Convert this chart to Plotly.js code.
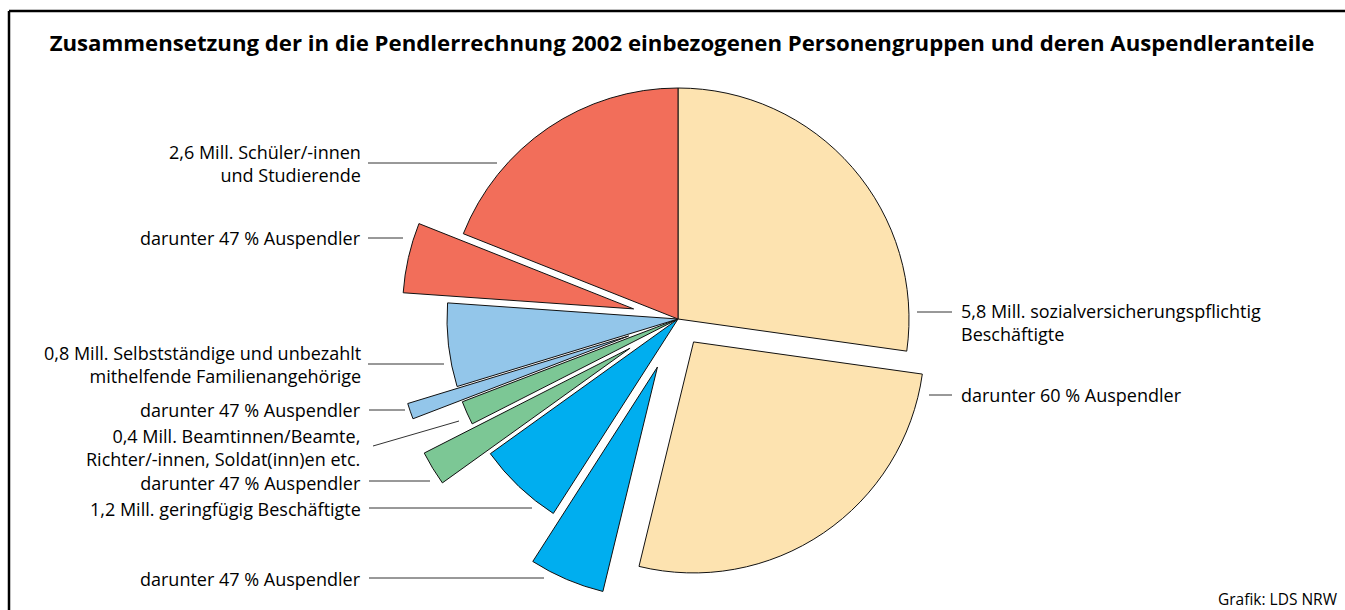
<!DOCTYPE html>
<html>
<head>
<meta charset="utf-8">
<script src="https://cdn.plot.ly/plotly-3.0.1.min.js"></script>
<style>
html,body{margin:0;padding:0;background:#fff;overflow:hidden;}
#chart{width:1345px;height:610px;}
</style>
</head>
<body>
<div id="chart"></div>
<script>
const categories = [
  "Sozialversicherungspflichtig Beschäftigte (ohne Auspendler)",
  "Sozialversicherungspflichtig Beschäftigte – Auspendler",
  "Geringfügig Beschäftigte – Auspendler",
  "Geringfügig Beschäftigte (ohne Auspendler)",
  "Beamtinnen/Beamte etc. – Auspendler",
  "Beamtinnen/Beamte etc. (ohne Auspendler)",
  "Selbstständige/mithelfende – Auspendler",
  "Selbstständige/mithelfende (ohne Auspendler)",
  "Schüler/-innen und Studierende – Auspendler",
  "Schüler/-innen und Studierende (ohne Auspendler)"
];
const values = [2.94, 2.87, 0.57, 0.65, 0.26, 0.18, 0.12, 0.63, 0.53, 2.05];

// label blocks on the left (each block is one text)
const labelLeft = [
  ["2,6 Mill. Schüler/-innen", "und Studierende"],
  ["darunter 47 % Auspendler"],
  ["0,8 Mill. Selbstständige und unbezahlt", "mithelfende Familienangehörige"],
  ["darunter 47 % Auspendler"],
  ["0,4 Mill. Beamtinnen/Beamte,", "Richter/-innen, Soldat(inn)en etc.", "darunter 47 % Auspendler"],
  ["1,2 Mill. geringfügig Beschäftigte"],
  ["darunter 47 % Auspendler"]
];
const labelRight = [
  ["5,8 Mill. sozialversicherungspflichtig", "Beschäftigte"],
  ["darunter 60 % Auspendler"]
];
const titleText = "Zusammensetzung der in die Pendlerrechnung 2002 einbezogenen Personengruppen und deren Auspendleranteile";
const sourceText = "Grafik: LDS NRW";

// ---- styles ----
const sliceColors = ["#FDE3B0","#FDE3B0","#00AEEF","#00AEEF","#7CC795","#7CC795",
                     "#93C6EA","#93C6EA","#F26E5A","#F26E5A"];
const pulls = [0, 0.12, 0.226, 0, 0.243, 0, 0.226, 0, 0.197, 0];

const W = 1345, H = 610;
const px = x => x / W;
const py = y => 1 - y / H;

// pie geometry: centre (678,319), radius 231
const cx = 678, cy = 319, R = 231;
const maxPull = Math.max(...pulls);
const half = R * (1 + maxPull);
const domX = [px(cx - half), px(cx + half)];
const domY = [1 - (cy + half) / H, 1 - (cy - half) / H];

const FONT = "Open Sans, Noto Sans, DejaVu Sans, sans-serif";
const FS = 18;

// label block centres (y) and leader lines
const leftPos = [
  {y: 163.5, l: [[[368,163],[497,163]]]},
  {y: 238,   l: [[[368,238],[403,238]]]},
  {y: 364.5, l: [[[368,364],[444,364]]]},
  {y: 410,   l: [[[369,410],[405,410]]]},
  {y: 460,   l: [[[373,446],[459,421]], [[369,481],[430,481]]]},
  {y: 509,   l: [[[369,508],[532,508]]]},
  {y: 579,   l: [[[369,578],[544,578]]]}
];
const rightPos = [
  {y: 322.5, l: [[[917,312],[952,312]]]},
  {y: 395,   l: [[[929,395],[952,395]]]}
];

const annotations = [];
const shapes = [];
function addLabel(lines, x, y, anchor) {
  annotations.push({text: lines.join("<br>"), xref: "paper", yref: "paper", x: px(x), y: py(y),
    xanchor: anchor, yanchor: "middle", align: anchor, showarrow: false,
    font: {family: FONT, size: FS, color: "#000"}});
}
function addLine(L) {
  shapes.push({type: "line", xref: "paper", yref: "paper",
    x0: px(L[0][0]), y0: py(L[0][1]), x1: px(L[1][0]), y1: py(L[1][1]),
    line: {color: "#333", width: 1}});
}
labelLeft.forEach((lines, i) => { addLabel(lines, 363, leftPos[i].y, "right"); leftPos[i].l.forEach(addLine); });
labelRight.forEach((lines, i) => { addLabel(lines, 959, rightPos[i].y, "left"); rightPos[i].l.forEach(addLine); });

annotations.push({text: sourceText, xref: "paper", yref: "paper", x: px(1340), y: py(598.5),
  xanchor: "right", yanchor: "middle", showarrow: false,
  font: {family: FONT, size: 15.5, color: "#000"}});

// frame (left and top border)
shapes.push({type: "line", xref: "paper", yref: "paper", x0: px(9), y0: py(11), x1: px(9), y1: 0,
  line: {color: "#000", width: 2.5}});
shapes.push({type: "line", xref: "paper", yref: "paper", x0: px(9), y0: py(11), x1: 1, y1: py(11),
  line: {color: "#000", width: 2.5}});

const trace = {
  type: "pie",
  labels: categories,
  values: values,
  sort: false,
  direction: "clockwise",
  rotation: 0,
  pull: pulls,
  marker: {colors: sliceColors, line: {color: "#111", width: 1}},
  textinfo: "none",
  hoverinfo: "label+value",
  showlegend: false,
  domain: {x: domX, y: domY}
};

const layout = {
  width: W, height: H,
  margin: {l: 0, r: 0, t: 0, b: 0},
  paper_bgcolor: "#fff",
  showlegend: false,
  title: {text: "<b>" + titleText + "</b>", x: px(682), xanchor: "center",
          y: py(43), yanchor: "middle", yref: "container",
          font: {family: FONT, size: 22.2, color: "#000"}},
  annotations: annotations,
  shapes: shapes
};

Plotly.newPlot("chart", [trace], layout, {displayModeBar: false, staticPlot: true});
</script>
</body>
</html>
